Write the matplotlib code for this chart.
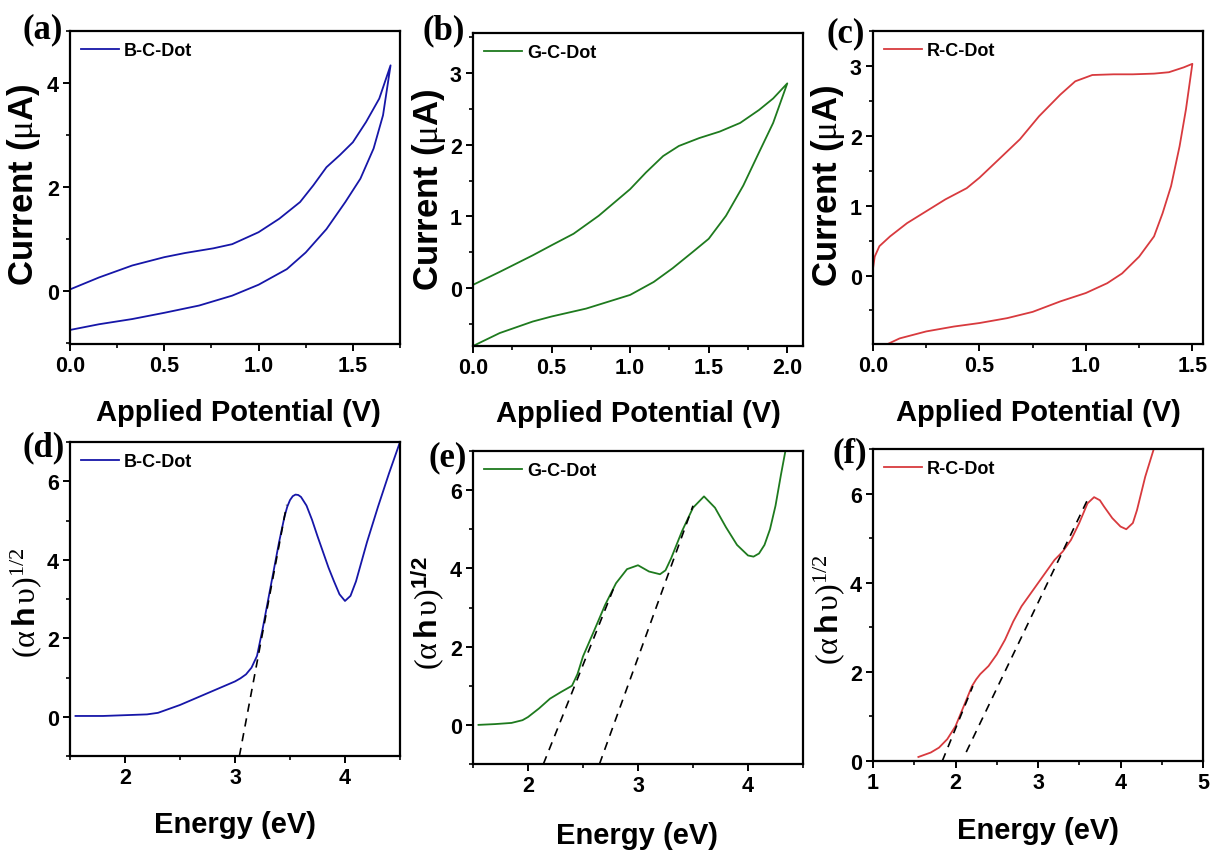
import matplotlib
matplotlib.use("Agg")
import matplotlib.pyplot as plt
from matplotlib.ticker import MultipleLocator, FormatStrFormatter

plt.rcParams["font.family"] = ["Liberation Sans", "DejaVu Sans"]
plt.rcParams["mathtext.fontset"] = "custom"
plt.rcParams["mathtext.rm"] = "Liberation Serif"
plt.rcParams["mathtext.it"] = "Liberation Serif:italic"
plt.rcParams["mathtext.bf"] = "Liberation Sans:bold"
plt.rcParams["mathtext.sf"] = "Liberation Sans:bold"

# ---------------- cyclic voltammetry (top row) ----------------
# B-C-Dot
cv_b_fwd_v = [0.0, 0.154, 0.33, 0.5, 0.61, 0.76, 0.86, 1.0, 1.11, 1.22, 1.29, 1.36, 1.43, 1.5, 1.57, 1.64, 1.7]
cv_b_fwd_i = [0.03, 0.26, 0.49, 0.65, 0.73, 0.82, 0.9, 1.13, 1.39, 1.71, 2.03, 2.38, 2.61, 2.86, 3.25, 3.7, 4.34]
cv_b_rev_v = [1.7, 1.66, 1.61, 1.54, 1.46, 1.36, 1.25, 1.15, 1.0, 0.86, 0.685, 0.5, 0.33, 0.154, 0.0]
cv_b_rev_i = [4.34, 3.38, 2.74, 2.16, 1.71, 1.19, 0.74, 0.42, 0.12, -0.09, -0.28, -0.42, -0.54, -0.64, -0.75]

# G-C-Dot
cv_g_fwd_v = [0.0, 0.17, 0.38, 0.5, 0.64, 0.8, 1.0, 1.1, 1.21, 1.31, 1.44, 1.57, 1.7, 1.82, 1.91, 2.0]
cv_g_fwd_i = [0.05, 0.23, 0.46, 0.6, 0.76, 1.01, 1.38, 1.61, 1.84, 1.98, 2.09, 2.18, 2.3, 2.48, 2.64, 2.85]
cv_g_rev_v = [2.0, 1.91, 1.82, 1.72, 1.61, 1.5, 1.4, 1.27, 1.15, 1.0, 0.72, 0.5, 0.38, 0.17, 0.0]
cv_g_rev_i = [2.85, 2.3, 1.89, 1.43, 1.01, 0.69, 0.51, 0.28, 0.09, -0.09, -0.28, -0.39, -0.46, -0.62, -0.8]

# R-C-Dot
cv_r_fwd_v = [0.0, 0.008, 0.03, 0.08, 0.16, 0.25, 0.34, 0.44, 0.5, 0.59, 0.69, 0.78, 0.88, 0.95,
              1.03, 1.13, 1.22, 1.32, 1.39, 1.46, 1.5]
cv_r_fwd_i = [0.1, 0.27, 0.42, 0.56, 0.75, 0.92, 1.09, 1.25, 1.4, 1.66, 1.95, 2.28, 2.59, 2.78,
              2.87, 2.88, 2.88, 2.89, 2.91, 2.98, 3.03]
cv_r_rev_v = [1.5, 1.47, 1.44, 1.4, 1.36, 1.32, 1.25, 1.17, 1.1, 1.0, 0.88, 0.75, 0.63, 0.5,
              0.38, 0.25, 0.125, 0.055]
cv_r_rev_i = [3.03, 2.38, 1.85, 1.28, 0.89, 0.56, 0.27, 0.03, -0.11, -0.25, -0.37, -0.52, -0.61, -0.68,
              -0.73, -0.8, -0.9, -1.0]

# ---------------- Tauc plots (bottom row) ----------------
tauc_b_e = [1.55, 1.8, 2.0, 2.1, 2.2, 2.3, 2.4, 2.5, 2.6, 2.7, 2.8, 2.9, 3.0, 3.05, 3.1, 3.15, 3.2,
            3.25, 3.3, 3.35, 3.4, 3.45, 3.475, 3.5, 3.525, 3.55, 3.575, 3.6, 3.65, 3.7, 3.75, 3.8,
            3.85, 3.9, 3.95, 4.0, 4.05, 4.1, 4.15, 4.2, 4.3, 4.4, 4.5]
tauc_b_y = [0.02, 0.02, 0.04, 0.05, 0.06, 0.1, 0.2, 0.3, 0.42, 0.54, 0.66, 0.78, 0.9, 0.98, 1.08,
            1.25, 1.55, 2.22, 2.96, 3.7, 4.44, 5.1, 5.35, 5.52, 5.62, 5.66, 5.65, 5.6, 5.38, 5.02,
            4.6, 4.2, 3.8, 3.45, 3.12, 2.95, 3.08, 3.45, 3.95, 4.45, 5.35, 6.2, 7.0]
fit_b_e = [3.04, 3.47]
fit_b_y = [-1.0, 5.4]

tauc_g_e = [1.55, 1.7, 1.85, 1.95, 2.0, 2.1, 2.2, 2.3, 2.4, 2.45, 2.5, 2.6, 2.7, 2.8, 2.9, 3.0, 3.1,
            3.2, 3.25, 3.3, 3.4, 3.5, 3.6, 3.7, 3.8, 3.9, 4.0, 4.05, 4.1, 4.15, 4.2, 4.25, 4.3, 4.34]
tauc_g_y = [0.0, 0.02, 0.05, 0.12, 0.2, 0.42, 0.67, 0.84, 1.0, 1.3, 1.75, 2.4, 3.06, 3.62, 3.98,
            4.08, 3.92, 3.85, 3.95, 4.25, 4.95, 5.55, 5.84, 5.55, 5.05, 4.6, 4.33, 4.3, 4.38, 4.6,
            5.0, 5.6, 6.4, 7.0]
fit_g1_e = [2.14, 2.78]
fit_g1_y = [-1.0, 3.5]
fit_g2_e = [2.65, 3.5]
fit_g2_y = [-1.0, 5.6]

tauc_r_e = [1.55, 1.7, 1.8, 1.9, 2.0, 2.1, 2.2, 2.25, 2.3, 2.4, 2.5, 2.6, 2.7, 2.8, 2.9, 3.0, 3.1,
            3.2, 3.3, 3.4, 3.5, 3.6, 3.68, 3.75, 3.8, 3.9, 4.0, 4.07, 4.15, 4.2, 4.3, 4.4]
tauc_r_y = [0.09, 0.19, 0.3, 0.49, 0.78, 1.23, 1.68, 1.83, 1.95, 2.13, 2.39, 2.72, 3.13, 3.47, 3.73,
            3.99, 4.25, 4.51, 4.7, 4.96, 5.34, 5.78, 5.92, 5.85, 5.71, 5.45, 5.26, 5.2, 5.34, 5.63,
            6.38, 6.98]
fit_r1_e = [1.84, 2.21]
fit_r1_y = [0.0, 1.68]
fit_r2_e = [2.13, 3.6]
fit_r2_y = [0.2, 5.86]

BLUE = "#1616a8"
GREEN = "#1e7a1e"
RED = "#d83a3e"

W, H = 1211, 853
fig = plt.figure(figsize=(W / 100, H / 100), dpi=100)


def add_ax(l, t, r, b):
    return fig.add_axes([l / W, 1 - b / H, (r - l) / W, (b - t) / H])


def style(ax, xmaj, xmin, ymaj, ymin, xfmt, yfmt):
    for s in ax.spines.values():
        s.set_linewidth(1.6)
    ax.xaxis.set_major_locator(MultipleLocator(xmaj))
    ax.xaxis.set_minor_locator(MultipleLocator(xmin))
    ax.yaxis.set_major_locator(MultipleLocator(ymaj))
    ax.yaxis.set_minor_locator(MultipleLocator(ymin))
    ax.xaxis.set_major_formatter(FormatStrFormatter(xfmt))
    ax.yaxis.set_major_formatter(FormatStrFormatter(yfmt))
    ax.tick_params(which="major", direction="out", length=5, width=1.4, pad=3,
                   labelsize=15.5, top=False, right=False)
    ax.tick_params(which="minor", direction="out", length=3, width=1.2, top=False, right=False)
    for lab in ax.get_xticklabels() + ax.get_yticklabels():
        lab.set_fontweight("bold")


def place_labels(ax, box, xl, yl, xtext, ytext, ysize):
    l, t, r, b = box
    ax.set_xlabel(xtext, fontsize=21, fontweight="bold", va="center", ha="center")
    ax.set_ylabel(ytext, fontsize=ysize, fontweight="bold", va="center", ha="center")
    ax.xaxis.set_label_coords((xl[0] - l) / (r - l), (b - xl[1]) / (b - t))
    ax.yaxis.set_label_coords((yl[0] - l) / (r - l), (b - yl[1]) / (b - t))


def legend(ax, text):
    ax.legend([text], loc="upper left", frameon=False, handlelength=2.1, handletextpad=0.3,
              borderaxespad=0.3, borderpad=0.3,
              prop={"family": "Liberation Sans", "weight": "bold", "size": 13})


cur_label = r"Current ($\mathrm{\mu}$A)"
tauc_label = r"$\mathrm{(\alpha\,}\mathbf{h}\mathrm{\,\upsilon)}^{\mathrm{1/2}}$"
tauc_label_e = r"$\mathrm{(\alpha\,}\mathbf{h}\mathrm{\,\upsilon)}^{\mathbf{1/2}}$"

# ---- (a)
box = (70, 32, 400, 345)
ax = add_ax(*box)
ax.plot(cv_b_fwd_v + cv_b_rev_v[1:], cv_b_fwd_i + cv_b_rev_i[1:], color=BLUE, lw=1.3)
ax.set_xlim(0, 1.75)
ax.set_ylim(-1.02, 5.0)
style(ax, 0.5, 0.25, 2, 1, "%.1f", "%d")
legend(ax, "B-C-Dot")
place_labels(ax, box, (238, 413), (24, 185), "Applied Potential (V)", cur_label, 25)

# ---- (b)
box = (473, 34, 803, 347)
ax = add_ax(*box)
ax.plot(cv_g_fwd_v + cv_g_rev_v[1:], cv_g_fwd_i + cv_g_rev_i[1:], color=GREEN, lw=1.3)
ax.set_xlim(0, 2.1)
ax.set_ylim(-0.8, 3.55)
style(ax, 0.5, 0.25, 1, 0.5, "%.1f", "%d")
legend(ax, "G-C-Dot")
place_labels(ax, box, (638, 414), (429, 190), "Applied Potential (V)", cur_label, 25)

# ---- (c)
box = (873, 32, 1203, 345)
ax = add_ax(*box)
ax.plot(cv_r_fwd_v + cv_r_rev_v[1:], cv_r_fwd_i + cv_r_rev_i[1:], color=RED, lw=1.3)
ax.set_xlim(0, 1.55)
ax.set_ylim(-0.98, 3.5)
style(ax, 0.5, 0.25, 1, 0.5, "%.1f", "%d")
legend(ax, "R-C-Dot")
place_labels(ax, box, (1038, 413), (828, 186), "Applied Potential (V)", cur_label, 25)

# ---- (d)
box = (70, 443, 400, 757)
ax = add_ax(*box)
ax.plot(tauc_b_e, tauc_b_y, color=BLUE, lw=1.3)
ax.plot(fit_b_e, fit_b_y, color="black", lw=1.2, ls=(0, (5, 4)))
ax.set_xlim(1.5, 4.5)
ax.set_ylim(-1.0, 7.0)
style(ax, 1, 0.5, 2, 1, "%d", "%d")
legend(ax, "B-C-Dot")
place_labels(ax, box, (235, 825), (26, 603), "Energy (eV)", tauc_label, 23)

# ---- (e)
box = (473, 452, 803, 765)
ax = add_ax(*box)
ax.plot(tauc_g_e, tauc_g_y, color=GREEN, lw=1.3)
ax.plot(fit_g1_e, fit_g1_y, color="black", lw=1.2, ls=(0, (5, 4)))
ax.plot(fit_g2_e, fit_g2_y, color="black", lw=1.2, ls=(0, (5, 4)))
ax.set_xlim(1.5, 4.5)
ax.set_ylim(-1.0, 7.0)
style(ax, 1, 0.5, 2, 1, "%d", "%d")
legend(ax, "G-C-Dot")
place_labels(ax, box, (637, 836), (428, 613), "Energy (eV)", tauc_label_e, 23)

# ---- (f)
box = (873, 450, 1203, 762)
ax = add_ax(*box)
ax.plot(tauc_r_e, tauc_r_y, color=RED, lw=1.3)
ax.plot(fit_r1_e, fit_r1_y, color="black", lw=1.2, ls=(0, (5, 4)))
ax.plot(fit_r2_e, fit_r2_y, color="black", lw=1.2, ls=(0, (5, 4)))
ax.set_xlim(1, 5)
ax.set_ylim(0, 7.0)
style(ax, 1, 0.5, 2, 1, "%d", "%d")
legend(ax, "R-C-Dot")
place_labels(ax, box, (1038, 831), (829, 610), "Energy (eV)", tauc_label, 23)

# panel letters
for letter, (px, py) in zip("abcdef", [(22, 13), (423, 14), (826, 17), (22, 431), (428, 441), (833, 437)]):
    fig.text(px / W, 1 - py / H, f"({letter})", fontsize=25, fontweight="bold",
             family="Liberation Serif", ha="left", va="top")

fig.savefig("out.png", dpi=100)
